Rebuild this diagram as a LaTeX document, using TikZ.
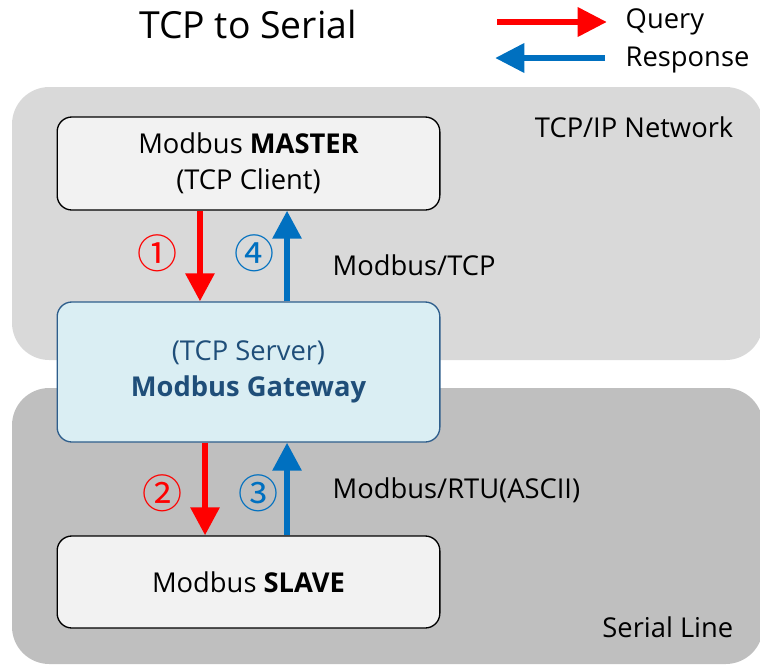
\documentclass[tikz,border=0pt]{standalone}
\usepackage{fontspec}
\setmainfont{Open Sans}
\newfontfamily\cjk{Noto Sans CJK KR}
\usetikzlibrary{arrows.meta,positioning}
\definecolor{tcpgray}{HTML}{D9D9D9}
\definecolor{serialgray}{HTML}{BFBFBF}
\definecolor{boxgray}{HTML}{F2F2F2}
\definecolor{gwfill}{HTML}{DAEEF3}
\definecolor{gwline}{HTML}{2E5E8C}
\definecolor{gwtext}{HTML}{1F4E79}
\definecolor{qred}{HTML}{FF0000}
\definecolor{rblue}{HTML}{0070C0}
\begin{document}
\begin{tikzpicture}[x=0.75pt, y=-0.75pt,
    devbox/.style={draw, line width=1pt, rounded corners=11pt, fill=boxgray,
        minimum width=287pt, align=center, font=\fontsize{20.5}{27}\selectfont},
    query/.style={draw=qred, line width=4.5pt, -{Triangle[width=21pt,length=21pt]}},
    response/.style={draw=rblue, line width=4.5pt, -{Triangle[width=21pt,length=21pt]}},
    legq/.style={draw=qred, line width=5pt, -{Triangle[width=21pt,length=22pt]}},
    legr/.style={draw=rblue, line width=5pt, -{Triangle[width=21pt,length=22pt]}},
    stepnum/.style={font=\cjk\fontsize{30}{30}\selectfont},
    lbl/.style={font=\fontsize{20.5}{24}\selectfont}]

    \clip (0,0) rectangle (760,664);

    % network areas
    \fill[tcpgray, rounded corners=28pt] (12,87) rectangle (763,360);
    \fill[serialgray, rounded corners=28pt] (12,388) rectangle (763,664);
    \node[lbl, anchor=east] (tcpnet) at (738,127) {TCP/IP Network};
    \node[lbl, anchor=east] (serline) at (738,627) {Serial Line};

    % devices
    \node[devbox, minimum height=69.75pt] (master) at (248.5,163.5)
        {Modbus \textbf{MASTER}\\(TCP Client)};
    \node[devbox, minimum height=105pt, fill=gwfill, draw=gwline, text=gwtext] (gw) at (248.5,372)
        {(TCP Server)\\\textbf{Modbus Gateway}};
    \node[devbox, minimum height=69pt] (slave) at (248.5,582) {Modbus \textbf{SLAVE}};

    % messages
    \draw[query] ([xshift=-36.4pt]master.south) -- ([xshift=-36.4pt]gw.north);
    \draw[response] ([xshift=28.9pt]gw.north) -- ([xshift=28.9pt]master.south);
    \draw[query] ([xshift=-32.6pt]gw.south) -- ([xshift=-32.6pt]slave.north);
    \draw[response] ([xshift=28.9pt]slave.north) -- ([xshift=28.9pt]gw.south);

    \node[stepnum, text=qred] (s1) at (157,253) {①};
    \node[stepnum, text=rblue] (s4) at (254,253) {④};
    \node[stepnum, text=qred] (s2) at (162,493) {②};
    \node[stepnum, text=rblue] (s3) at (258,493) {③};

    \node[lbl, anchor=west] (tcplbl) at (328,265) {Modbus/TCP};
    \node[lbl, anchor=west] (rtulbl) at (328,490) {Modbus/RTU(ASCII)};

    % title and legend
    \node[font=\fontsize{28}{30}\selectfont] (title) at (248,24) {TCP to Serial};
    \coordinate (qa) at (497,22);
    \coordinate (qb) at (607,22);
    \coordinate (ra) at (605,58);
    \coordinate (rb) at (495,58);
    \draw[legq] (qa) -- (qb);
    \draw[legr] (ra) -- (rb);
    \node[lbl, anchor=west] (qtxt) at (621,22) {Query};
    \node[lbl, anchor=west] (rtxt) at (621,60) {Response};
\end{tikzpicture}
\end{document}
